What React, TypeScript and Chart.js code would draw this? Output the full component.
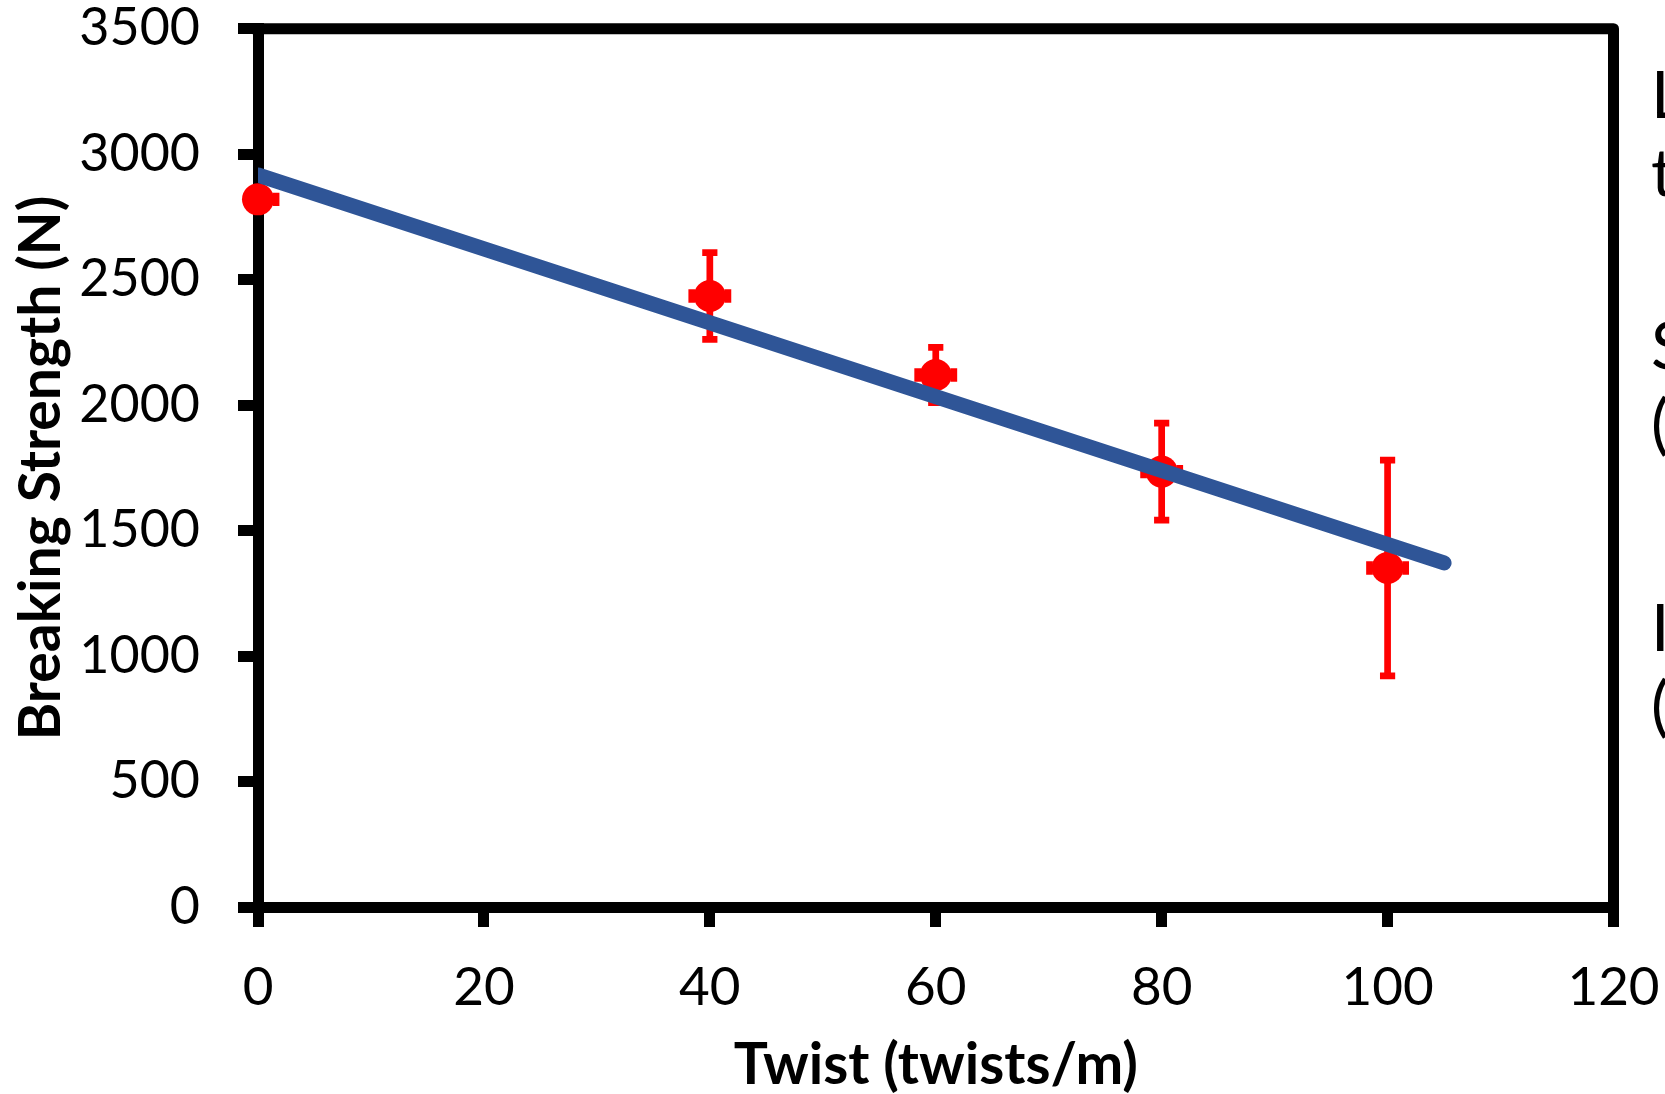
import React, { useEffect, useRef } from "react";
import { Chart, registerables } from "chart.js";

Chart.register(...registerables);

// ---- data ----
const twist = [0, 40, 60, 80, 100];
const strength = [2820, 2435, 2120, 1735, 1351];
const strengthErr = [30, 173, 110, 193, 430];
const twistErr = [1.6, 1.6, 1.6, 1.6, 1.6];
const trendTwist = [0, 105];
const trendStrength = [2917, 1371];
const xTickValues = [0, 20, 40, 60, 80, 100, 120];
const yTickValues = [0, 500, 1000, 1500, 2000, 2500, 3000, 3500];
const xTitle = "Twist (twists/m)";
const yTitle = "Breaking Strength (N)";
const sideLines = ["Linear", "trendline", "Slope", "(N per twist/m)", "Intercept", "(N)"];

const W = 1665;
const H = 1094;
const FONT = "Lato, 'Open Sans', 'DejaVu Sans', sans-serif";
const sideBaselines = [118, 196, 369, 447, 651, 729];

const errorBarPlugin = {
  id: "errorBars",
  beforeDatasetsDraw(chart: any) {
    const { ctx, chartArea, scales } = chart;
    const xs = scales.x;
    const ys = scales.y;
    ctx.save();
    ctx.beginPath();
    ctx.rect(chartArea.left, chartArea.top, chartArea.right - chartArea.left, chartArea.bottom - chartArea.top);
    ctx.clip();
    ctx.strokeStyle = "#FF0000";
    ctx.lineWidth = 6.7;
    ctx.lineCap = "butt";
    const seg = (x1: number, y1: number, x2: number, y2: number) => {
      ctx.beginPath();
      ctx.moveTo(x1, y1);
      ctx.lineTo(x2, y2);
      ctx.stroke();
    };
    twist.forEach((t, i) => {
      const px = xs.getPixelForValue(t);
      const py = ys.getPixelForValue(strength[i]);
      const yt = ys.getPixelForValue(strength[i] + strengthErr[i]);
      const yb = ys.getPixelForValue(strength[i] - strengthErr[i]);
      seg(px, yt, px, yb);
      seg(px - 7.6, yt, px + 7.6, yt);
      seg(px - 7.6, yb, px + 7.6, yb);
      const xl = xs.getPixelForValue(t - twistErr[i]);
      const xr = xs.getPixelForValue(t + twistErr[i]);
      seg(xl, py, xr, py);
      seg(xl, py - 6.7, xl, py + 6.7);
      seg(xr, py - 6.7, xr, py + 6.7);
    });
    ctx.restore();
  },
};

const framePlugin = {
  id: "frame",
  beforeDatasetsDraw(chart: any) {
    const { ctx, chartArea } = chart;
    const { left, right, top, bottom } = chartArea;
    ctx.save();
    ctx.strokeStyle = "#000";
    ctx.lineWidth = 11;
    ctx.lineJoin = "round";
    ctx.lineCap = "butt";
    ctx.beginPath();
    ctx.moveTo(left - 5.5, top);
    ctx.lineTo(right, top);
    ctx.lineTo(right, bottom + 5.5);
    ctx.stroke();
    ctx.restore();
  },
};

const sideTextPlugin = {
  id: "sideText",
  afterDraw(chart: any) {
    const { ctx } = chart;
    ctx.save();
    ctx.fillStyle = "#000";
    ctx.font = `66px ${FONT}`;
    ctx.textAlign = "left";
    ctx.textBaseline = "alphabetic";
    sideLines.forEach((s, i) => ctx.fillText(s, 1651, sideBaselines[i]));
    ctx.restore();
  },
};

const zeroPadding = (s: any) => {
  s.paddingTop = 0;
  s.paddingBottom = 0;
  s.paddingLeft = 0;
  s.paddingRight = 0;
};

export default function App() {
  const ref = useRef<HTMLCanvasElement | null>(null);

  useEffect(() => {
    if (!ref.current) return;
    const chart = new Chart(ref.current, {
      type: "scatter",
      data: {
        datasets: [
          {
            type: "line",
            label: "Trend",
            data: trendTwist.map((x, i) => ({ x, y: trendStrength[i] })),
            borderColor: "#2F5597",
            backgroundColor: "#2F5597",
            borderWidth: 15,
            borderCapStyle: "round",
            pointRadius: 0,
            fill: false,
            order: 0,
          } as any,
          {
            type: "scatter",
            label: "Breaking strength",
            data: twist.map((x, i) => ({ x, y: strength[i] })),
            backgroundColor: "#FF0000",
            borderColor: "#FF0000",
            borderWidth: 0,
            pointRadius: 16,
            pointHoverRadius: 16,
            clip: false,
            order: 1,
          } as any,
        ],
      },
      options: {
        responsive: false,
        animation: false,
        events: [],
        layout: { padding: { left: 0, right: 51.5, top: 28.7, bottom: 0 } },
        plugins: {
          legend: { display: false },
          tooltip: { enabled: false },
          title: { display: false },
        },
        scales: {
          x: {
            type: "linear",
            min: 0,
            max: 120,
            afterBuildTicks: (s: any) => {
              s.ticks = xTickValues.map((v) => ({ value: v }));
            },
            afterFit: (s: any) => {
              s.height = H - 907;
              zeroPadding(s);
            },
            ticks: {
              color: "#000",
              font: { family: FONT, size: 53, lineHeight: 1 },
              padding: 34.5,
              maxRotation: 0,
              autoSkip: false,
              callback: (v: any) => String(v),
            },
            grid: {
              display: true,
              drawOnChartArea: false,
              drawTicks: true,
              tickLength: 20,
              lineWidth: 11,
              color: "#000",
            },
            border: { display: true, width: 11, color: "#000" },
            title: {
              display: true,
              text: xTitle,
              color: "#000",
              font: { family: FONT, size: 57, weight: "bold", lineHeight: 1 },
              padding: { top: 0, bottom: 0 },
            },
          },
          y: {
            type: "linear",
            min: 0,
            max: 3500,
            afterBuildTicks: (s: any) => {
              s.ticks = yTickValues.map((v) => ({ value: v }));
            },
            afterFit: (s: any) => {
              s.width = 258;
              zeroPadding(s);
            },
            ticks: {
              color: "#000",
              font: { family: FONT, size: 52, lineHeight: 1 },
              padding: 38,
              autoSkip: false,
              callback: (v: any) => String(v),
            },
            grid: {
              display: true,
              drawOnChartArea: false,
              drawTicks: true,
              tickLength: 20,
              lineWidth: 11,
              color: "#000",
            },
            border: { display: true, width: 11, color: "#000" },
            title: {
              display: true,
              text: yTitle,
              color: "#000",
              font: { family: FONT, size: 57, weight: "bold", lineHeight: 1 },
              padding: { top: 13, bottom: 0 },
            },
          },
        },
      } as any,
      plugins: [errorBarPlugin, framePlugin, sideTextPlugin],
    });
    return () => chart.destroy();
  }, []);

  return (
    <div
      style={{
        position: "fixed",
        left: 0,
        top: 0,
        width: W,
        height: H,
        overflow: "hidden",
        background: "#fff",
      }}
    >
      <canvas ref={ref} width={W} height={H} style={{ display: "block", width: W, height: H }} />
    </div>
  );
}
